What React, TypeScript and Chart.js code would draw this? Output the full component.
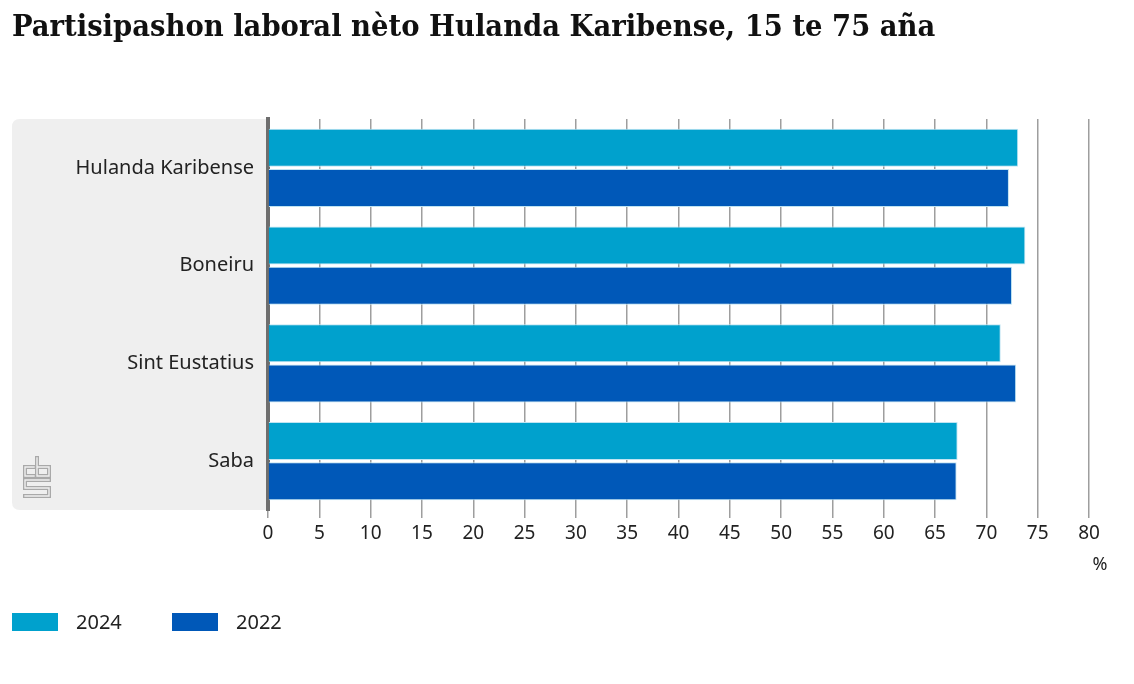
import React, { useEffect, useRef } from "react";
import { Chart, registerables } from "chart.js";

Chart.register(...registerables);

const categories = ["Hulanda Karibense", "Boneiru", "Sint Eustatius", "Saba"];
const values2024 = [73.1, 73.8, 71.4, 67.2];
const values2022 = [72.2, 72.5, 72.9, 67.1];
const seriesLabels = ["2024", "2022"];
const seriesColors = ["#00a1cd", "#0058b8"];
const titleText = "Partisipashon laboral nèto Hulanda Karibense, 15 te 75 aña";
const unitLabel = "%";

const FONT = "'Noto Sans', sans-serif";

function drawLogo(ctx: CanvasRenderingContext2D) {
  const paths: number[][][] = [
    [[34, 467], [25, 467], [25, 476], [34, 476]],
    [[37, 458], [37, 476], [49, 476], [49, 467], [37, 467]],
    [[49, 480], [25, 480], [25, 488], [49, 488], [49, 496], [25, 496]],
  ];
  const stroke = (w: number, c: string) => {
    ctx.strokeStyle = c;
    ctx.lineWidth = w;
    ctx.lineJoin = "miter";
    ctx.lineCap = "square";
    for (const p of paths) {
      ctx.beginPath();
      ctx.moveTo(p[0][0], p[0][1]);
      for (let i = 1; i < p.length; i++) ctx.lineTo(p[i][0], p[i][1]);
      ctx.stroke();
    }
  };
  stroke(4, "#a9a9a9");
  stroke(1.4, "#efefef");
}

const bandPlugin = {
  id: "band",
  beforeDraw(chart: any) {
    const { ctx, chartArea } = chart;
    const x0 = 12;
    const x1 = chartArea.left;
    const y0 = chartArea.top;
    const y1 = chartArea.bottom;
    const r = 8;
    ctx.save();
    ctx.fillStyle = "#efefef";
    ctx.beginPath();
    ctx.moveTo(x1, y0);
    ctx.lineTo(x0 + r, y0);
    ctx.quadraticCurveTo(x0, y0, x0, y0 + r);
    ctx.lineTo(x0, y1 - r);
    ctx.quadraticCurveTo(x0, y1, x0 + r, y1);
    ctx.lineTo(x1, y1);
    ctx.closePath();
    ctx.fill();
    drawLogo(ctx);
    ctx.restore();
  },
  afterDraw(chart: any) {
    const { ctx } = chart;
    const xs = chart.scales.x;
    ctx.save();
    ctx.fillStyle = "#222";
    ctx.font = `18px ${FONT}`;
    ctx.textAlign = "center";
    ctx.textBaseline = "middle";
    ctx.fillText(unitLabel, xs.right + 11, 565);
    ctx.restore();
  },
};

export default function App() {
  const ref = useRef<HTMLCanvasElement>(null);
  useEffect(() => {
    const canvas = ref.current!;
    const chart = new Chart(canvas, {
      type: "bar",
      data: {
        labels: categories,
        datasets: [
          {
            label: seriesLabels[0],
            data: values2024,
            backgroundColor: seriesColors[0],
            borderColor: "#bfe4f2",
            borderWidth: 1,
            categoryPercentage: 0.82,
            barPercentage: 0.95,
          },
          {
            label: seriesLabels[1],
            data: values2022,
            backgroundColor: seriesColors[1],
            borderColor: "#bfe4f2",
            borderWidth: 1,
            categoryPercentage: 0.82,
            barPercentage: 0.95,
          },
        ],
      },
      options: {
        indexAxis: "y",
        responsive: false,
        animation: false,
        devicePixelRatio: 1,
        layout: { padding: { top: 119, bottom: 134, left: 0, right: 45 } },
        plugins: {
          legend: { display: false },
          title: { display: false },
          tooltip: { enabled: false },
        },
        scales: {
          x: {
            min: 0,
            max: 80,
            ticks: {
              stepSize: 5,
              color: "#222",
              font: { family: FONT, size: 19 },
              padding: 4,
            },
            grid: {
              color: "#9e9e9e",
              lineWidth: 1.5,
              tickLength: 8,
              drawTicks: true,
            },
            border: { display: false },
            afterFit(scale: any) {
              scale.height = 40;
            },
          },
          y: {
            ticks: {
              color: "#222",
              font: { family: FONT, size: 20 },
              padding: 14,
            },
            grid: { display: false, drawTicks: false },
            border: { display: true, color: "#6e6e6e", width: 4 },
            afterFit(scale: any) {
              scale.width = 268;
            },
          },
        },
      },
      plugins: [bandPlugin],
    } as any);
    return () => chart.destroy();
  }, []);

  return (
    <div style={{ position: "fixed", left: 0, top: 0, width: 1134, height: 684, background: "#fff" }}>
      <canvas ref={ref} width={1134} height={684} style={{ position: "absolute", left: 0, top: 0 }} />
      <div
        style={{
          position: "absolute",
          left: 12,
          top: 5,
          fontFamily: "'DejaVu Serif', serif",
          fontStretch: "condensed",
          fontWeight: "bold",
          fontSize: 30.5,
          color: "#111",
          whiteSpace: "nowrap",
          lineHeight: "40px",
        }}
      >
        {titleText}
      </div>
      <div
        style={{
          position: "absolute",
          left: 12,
          top: 608,
          display: "flex",
          alignItems: "center",
          fontFamily: FONT,
          fontSize: 20,
          color: "#222",
        }}
      >
        {seriesLabels.map((s, i) => (
          <div key={s} style={{ display: "flex", alignItems: "center", width: 160 }}>
            <span style={{ display: "inline-block", width: 46, height: 18, background: seriesColors[i], marginRight: 18 }} />
            <span>{s}</span>
          </div>
        ))}
      </div>
    </div>
  );
}
